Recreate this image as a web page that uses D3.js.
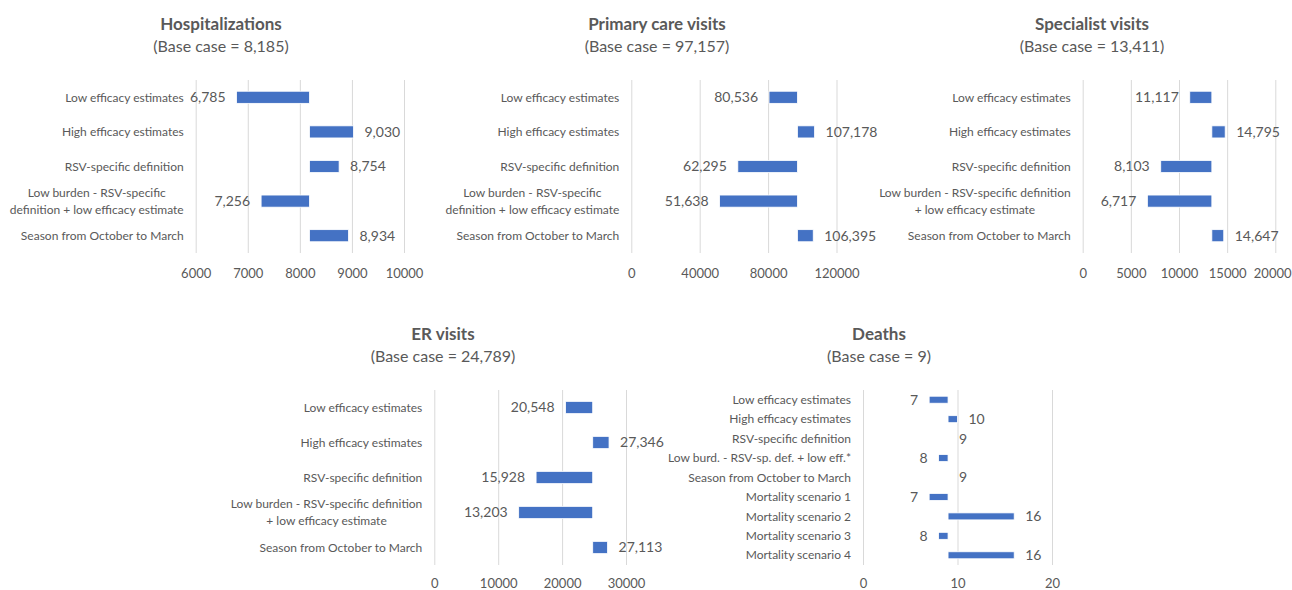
<!DOCTYPE html>
<html>
<head>
<meta charset="utf-8">
<script src="https://cdn.jsdelivr.net/npm/d3@7"></script>
<style>
  html, body { margin: 0; padding: 0; background: #fff; }
  svg { display: block; font-family: Lato, "Open Sans", sans-serif; }
</style>
</head>
<body>
<svg id="chart" width="1292" height="590"></svg>
<script>
// ---- Data --------------------------------------------------------------
const scenarios = [
  "Low efficacy estimates",
  "High efficacy estimates",
  "RSV-specific definition",
  "Low burden - RSV-specific definition + low efficacy estimate",
  "Season from October to March"
];
// Category labels as wrapped lines (two wrap widths)
const scenarioLinesNarrow = [
  ["Low efficacy estimates"],
  ["High efficacy estimates"],
  ["RSV-specific definition"],
  ["Low burden - RSV-specific", "definition + low efficacy estimate"],
  ["Season from October to March"]
];
const scenarioLinesWide = [
  ["Low efficacy estimates"],
  ["High efficacy estimates"],
  ["RSV-specific definition"],
  ["Low burden - RSV-specific definition", "+ low efficacy estimate"],
  ["Season from October to March"]
];
const deathScenarios = [
  "Low efficacy estimates",
  "High efficacy estimates",
  "RSV-specific definition",
  "Low burd. - RSV-sp. def. + low eff.*",
  "Season from October to March",
  "Mortality scenario 1",
  "Mortality scenario 2",
  "Mortality scenario 3",
  "Mortality scenario 4"
];

const hospBase = 8185;
const hospValues = [6785, 9030, 8754, 7256, 8934];
const hospTicks = [6000, 7000, 8000, 9000, 10000];

const primaryBase = 97157;
const primaryValues = [80536, 107178, 62295, 51638, 106395];
const primaryTicks = [0, 40000, 80000, 120000];

const specialistBase = 13411;
const specialistValues = [11117, 14795, 8103, 6717, 14647];
const specialistTicks = [0, 5000, 10000, 15000, 20000];

const erBase = 24789;
const erValues = [20548, 27346, 15928, 13203, 27113];
const erTicks = [0, 10000, 20000, 30000];

const deathBase = 9;
const deathValues = [7, 10, 9, 8, 9, 7, 16, 8, 16];
const deathTicks = [0, 10, 20];

// ---- Panels ------------------------------------------------------------
const panels = [
  { title: "Hospitalizations", base: hospBase, values: hospValues, ticks: hospTicks,
    lines: scenarioLinesNarrow, cx: 221, ty: 30, x0: 195.7, x1: 404, y0: 80, y1: 253, pad: 0.65, tickY: 278 },
  { title: "Primary care visits", base: primaryBase, values: primaryValues, ticks: primaryTicks,
    lines: scenarioLinesNarrow, cx: 657, ty: 30, x0: 631.3, x1: 836.5, y0: 80, y1: 253, pad: 0.65, tickY: 278 },
  { title: "Specialist visits", base: specialistBase, values: specialistValues, ticks: specialistTicks,
    lines: scenarioLinesWide, cx: 1092, ty: 30, x0: 1082.7, x1: 1275.3, y0: 80, y1: 253, pad: 0.65, tickY: 278 },
  { title: "ER visits", base: erBase, values: erValues, ticks: erTicks,
    lines: scenarioLinesWide, cx: 443, ty: 340, x0: 434.3, x1: 626, y0: 390, y1: 565, pad: 0.65, tickY: 587.5 },
  { title: "Deaths", base: deathBase, values: deathValues, ticks: deathTicks,
    lines: deathScenarios.map(s => [s]), cx: 879, ty: 340, x0: 863, x1: 1052, y0: 390, y1: 565, pad: 0.64, tickY: 587.5 }
];

const svg = d3.select("#chart");
const W = +svg.attr("width");
const fmt = d3.format(",");
const textColor = "#595959";
const barColor = "#4472C4";
const gridColor = "#d9d9d9";

panels.forEach(p => {
  const g = svg.append("g");
  const idx = d3.range(p.values.length);

  const x = d3.scaleLinear()
    .domain([p.ticks[0], p.ticks[p.ticks.length - 1]])
    .range([p.x0, p.x1]);
  const y = d3.scaleBand()
    .domain(idx)
    .range([p.y0, p.y1])
    .paddingInner(p.pad)
    .paddingOuter(p.pad / 2);

  // Titles
  g.append("text")
    .attr("x", p.cx).attr("y", p.ty)
    .attr("text-anchor", "middle")
    .attr("font-size", 17).attr("font-weight", 700)
    .attr("fill", textColor)
    .text(p.title);
  g.append("text")
    .attr("x", p.cx).attr("y", p.ty + 22)
    .attr("text-anchor", "middle")
    .attr("font-size", 16)
    .attr("fill", textColor)
    .text(`(Base case = ${fmt(p.base)})`);

  // Vertical gridlines at every tick
  const xAxis = d3.axisBottom(x).tickValues(p.ticks).tickSize(-(p.y1 - p.y0)).tickFormat(d3.format("d"));
  const ax = g.append("g")
    .attr("transform", `translate(0,${p.y1})`)
    .call(xAxis);
  ax.select(".domain").remove();
  ax.selectAll(".tick line").attr("stroke", gridColor).attr("stroke-width", 1);
  ax.selectAll(".tick text")
    .attr("y", p.tickY - p.y1)
    .attr("dy", 0)
    .attr("fill", textColor)
    .attr("font-size", 13)
    .attr("font-family", "Lato, 'Open Sans', sans-serif");
  // keep tick labels inside the drawing area
  ax.selectAll(".tick").each(function (d) {
    const t = d3.select(this).select("text");
    const half = t.node().getComputedTextLength() / 2;
    const over = x(d) + half - (W - 1);
    if (over > 0) t.attr("x", -over);
  });

  // Floating bars from base case to scenario value
  const bw = y.bandwidth();
  g.selectAll("rect.bar")
    .data(idx)
    .join("rect")
    .attr("class", "bar")
    .attr("x", i => x(Math.min(p.values[i], p.base)))
    .attr("width", i => Math.abs(x(p.values[i]) - x(p.base)))
    .attr("y", i => y(i))
    .attr("height", bw)
    .attr("fill", barColor)
    .attr("stroke", "#ffffff")
    .attr("stroke-width", 0.8);

  // Value labels beside bar ends
  g.selectAll("text.val")
    .data(idx)
    .join("text")
    .attr("class", "val")
    .attr("x", i => p.values[i] < p.base ? x(p.values[i]) - 11 : x(p.values[i]) + 11)
    .attr("y", i => y(i) + bw / 2)
    .attr("dy", "0.35em")
    .attr("text-anchor", i => p.values[i] < p.base ? "end" : "start")
    .attr("font-size", 14)
    .attr("fill", textColor)
    .text(i => fmt(p.values[i]));

  // Category labels, multi-line labels centred within their block
  const right = p.x0 - 12;
  idx.forEach(i => {
    const lines = p.lines[i];
    const cy = y(i) + bw / 2;
    const texts = lines.map((ln, k) => g.append("text")
      .attr("y", cy + (k - (lines.length - 1) / 2) * 16.6)
      .attr("dy", "0.35em")
      .attr("font-size", 12)
      .attr("fill", textColor)
      .text(ln));
    const widths = texts.map(t => t.node().getComputedTextLength());
    const maxW = d3.max(widths);
    texts.forEach(t => t.attr("x", right - maxW / 2).attr("text-anchor", "middle"));
  });
});
</script>
</body>
</html>
